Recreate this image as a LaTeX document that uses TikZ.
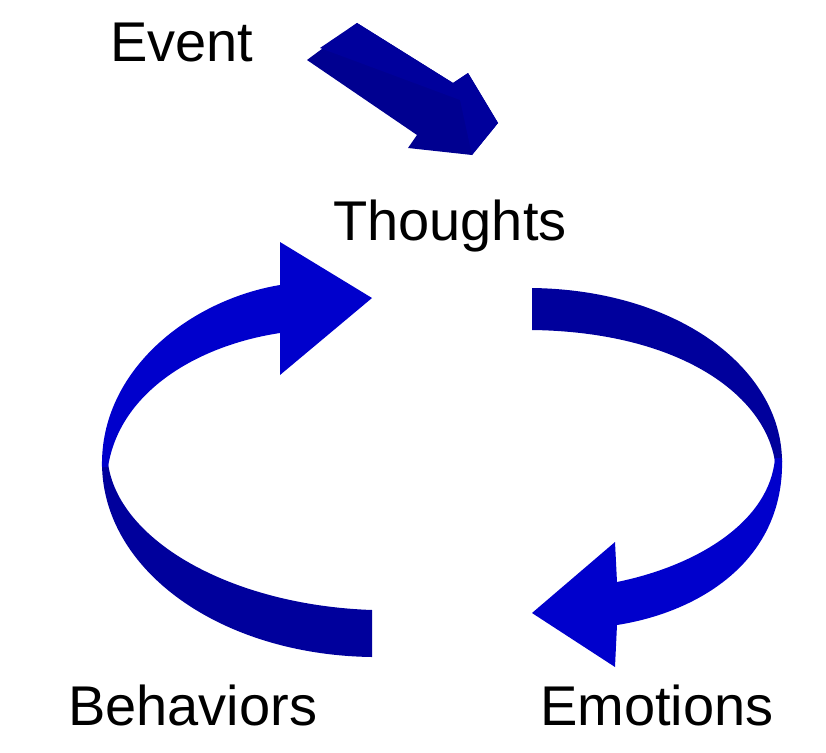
\documentclass[tikz,border=0pt]{standalone}
\usepackage{fontspec}
\setmainfont{Liberation Sans}
\definecolor{darkb}{HTML}{00009C}
\definecolor{brightb}{HTML}{0000CC}
\definecolor{navyb}{HTML}{000090}
\begin{document}
\begin{tikzpicture}[x=1pt,y=-1pt,
  lab/.style={anchor=base west,inner sep=0pt,font=\fontsize{56}{64}\selectfont}]
\useasboundingbox (0,0) rectangle (826,752);
% event arrow
\fill[navyb] (307,60) -- (357,23) -- (453,83) -- (468,73) -- (498,123) -- (472,155) -- (408,148) -- (417,135) -- cycle;
\fill[darkb] (357,23) -- (453,83) -- (468,73) -- (498,123) -- (472,155) -- (460,100) -- (320,48) -- cycle;
% right arrow
\fill[darkb] (532,288) .. controls (680,290) and (782,370) .. (782,462)
  -- (775,462) .. controls (765,395) and (680,332) .. (532,330) -- cycle;
\fill[brightb] (782,458) .. controls (785,560) and (700,612) .. (617,625)
  -- (615,667) -- (532,613) -- (615,542) -- (617,582)
  .. controls (700,565) and (770,520) .. (775,458) -- cycle;
% left arrow
\fill[darkb] (372,657) .. controls (220,655) and (102,570) .. (102,463)
  -- (108,463) .. controls (118,540) and (230,605) .. (372,610) -- cycle;
\fill[brightb] (102,467) .. controls (100,370) and (190,300) .. (280,285)
  -- (280,242) -- (372,298) -- (280,375) -- (280,333)
  .. controls (200,345) and (120,390) .. (108,467) -- cycle;
\node[lab] (event) at (110,62) {Event};
\node[lab] (thoughts) at (333,240) {Thoughts};
\node[lab] (behaviors) at (68,725) {Behaviors};
\node[lab] (emotions) at (540,725) {Emotions};
\end{tikzpicture}
\end{document}
